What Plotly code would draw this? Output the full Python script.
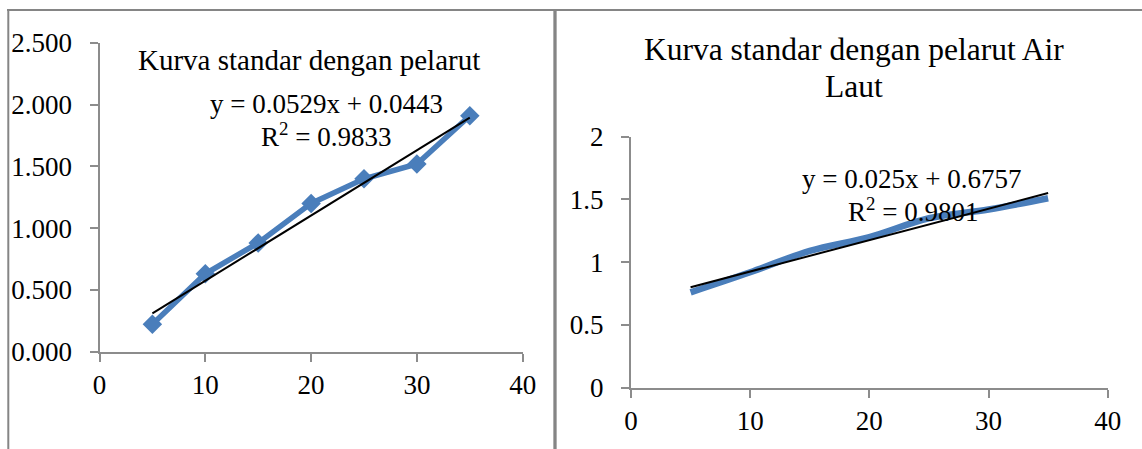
import plotly.graph_objects as go

W, H = 1142, 449

# Left chart: standard curve with solvent
conc = [5, 10, 15, 20, 25, 30, 35]
abs_pelarut = [0.22, 0.63, 0.88, 1.20, 1.40, 1.52, 1.91]
fit_pelarut = (0.0529, 0.0443, 0.9833)

# Right chart: standard curve with sea-water solvent
abs_air_laut = [0.76, 0.92, 1.09, 1.20, 1.35, 1.42, 1.51]
fit_air_laut = (0.025, 0.6757, 0.9801)

left_yticks = [0, 0.5, 1.0, 1.5, 2.0, 2.5]
right_yticks = [0, 0.5, 1, 1.5, 2]
xticks = [0, 10, 20, 30, 40]

BLUE = "#4a7ebb"
AXIS = "#8c8c8c"
SERIF = "Liberation Serif"


def px_x(p):
    return p / W


def px_y(p):
    return 1 - p / H


def trend(coef, xs):
    m, b, _ = coef
    return [m * x + b for x in xs]


x_ends = [conc[0], conc[-1]]

fig = go.Figure()

fig.add_trace(go.Scatter(
    x=conc, y=abs_pelarut, mode="lines+markers",
    line=dict(color=BLUE, width=5.5),
    marker=dict(symbol="diamond", size=15, color=BLUE),
    xaxis="x", yaxis="y", showlegend=False))
fig.add_trace(go.Scatter(
    x=x_ends, y=trend(fit_pelarut, x_ends), mode="lines",
    line=dict(color="black", width=2), xaxis="x", yaxis="y", showlegend=False))

fig.add_trace(go.Scatter(
    x=conc, y=abs_air_laut, mode="lines",
    line=dict(color=BLUE, width=6.5, shape="spline", smoothing=1),
    xaxis="x2", yaxis="y2", showlegend=False))
fig.add_trace(go.Scatter(
    x=x_ends, y=trend(fit_air_laut, x_ends), mode="lines",
    line=dict(color="black", width=2), xaxis="x2", yaxis="y2", showlegend=False))

axis_common = dict(
    showline=True, linecolor=AXIS, linewidth=2,
    ticks="outside", ticklen=8, tickwidth=2, tickcolor=AXIS,
    showgrid=False, zeroline=False, automargin=False,
    tickfont=dict(family=SERIF, size=27, color="black"),
)

fig.update_layout(
    width=W, height=H,
    margin=dict(l=0, r=0, t=0, b=0, autoexpand=False),
    paper_bgcolor="white", plot_bgcolor="white",
    xaxis=dict(domain=[px_x(99.5), px_x(522.7)], range=[0, 40],
               tickvals=xticks, anchor="y", **axis_common),
    yaxis=dict(domain=[px_y(351.5), px_y(43)], range=[0, 2.5],
               tickvals=left_yticks, tickformat=".3f", anchor="x",
               ticklabelstandoff=12, **axis_common),
    xaxis2=dict(domain=[px_x(631), px_x(1107.7)], range=[0, 40],
                tickvals=xticks, anchor="y2", **axis_common),
    yaxis2=dict(domain=[px_y(387.7), px_y(136.7)], range=[0, 2],
                tickvals=right_yticks, anchor="x2",
                ticklabelstandoff=12, **axis_common),
)

# Frame lines around the two charts
frame = dict(color="#858585")
fig.add_shape(type="line", xref="paper", yref="paper",
              x0=px_x(7), x1=1, y0=px_y(10), y1=px_y(10),
              line=dict(width=2, **frame))
fig.add_shape(type="line", xref="paper", yref="paper",
              x0=px_x(8.3), x1=px_x(8.3), y0=0, y1=px_y(10),
              line=dict(width=2, **frame))
fig.add_shape(type="line", xref="paper", yref="paper",
              x0=px_x(555), x1=px_x(555), y0=0, y1=px_y(10),
              line=dict(width=3.3, **frame))


def label(text, x, y, size):
    fig.add_annotation(text=text, xref="paper", yref="paper",
                       x=px_x(x), y=px_y(y), xanchor="center", yanchor="middle",
                       showarrow=False,
                       font=dict(family=SERIF, size=size, color="black"))


label("Kurva standar dengan pelarut", 309.5, 60, 29)
label("Kurva standar dengan pelarut Air", 853.8, 49, 31.5)
label("Laut", 853.8, 86, 31.5)

m, b, r2 = fit_pelarut
label(f"y = {m}x + {b}", 326.7, 104, 27)
label(f"R<sup>2</sup> = {r2}", 326, 135, 27)
m, b, r2 = fit_air_laut
label(f"y = {m}x + {b}", 911.7, 179, 27)
label(f"R<sup>2</sup> = {r2}", 912.5, 210, 27)

fig.write_html("out.html")
